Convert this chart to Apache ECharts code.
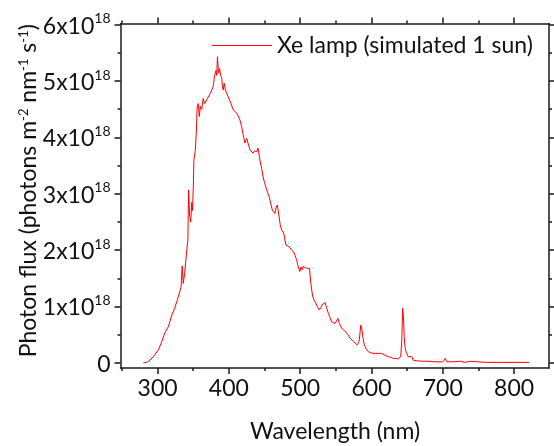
<!DOCTYPE html>
<html><head><meta charset="utf-8">
<script src="https://cdn.jsdelivr.net/npm/echarts@6/dist/echarts.min.js"></script>
<style>html,body{margin:0;padding:0;background:#fff}#c{width:554px;height:446px}</style>
</head><body><div id="c"></div>
<script>
// Wavelength (nm)
var wavelength = [280,287,294,301,306,310,315,320,324,327,331,333,334.5,336,338,341,342.5,343.5,345,346.5,348,349,350,351,353,354.5,355.5,357,358.5,360,362,364,366,368,370,372,374,376,378,380,382,383,384,385.5,387,388.5,390,391,392,393.5,395,397,399,401,403,406,408,411,413,415.5,418,420,422.5,425,427,429.5,432,434,436,439,441,443.5,446,448,450,453,455,456.5,459,461,463,464.5,466,468,470.5,472,474,477,480,482,484.5,488,491,493,495,497,499.5,501,503,504,506,509,511,513,515,517.5,520,522,524,527,529,530.5,533,535,537,539.5,542,544,546,549,551,553,555,558,561,564,567,570,572,574.5,577,580,582,583,585,586.5,588,590,591,593,595.5,599,602.5,606,609.5,612,614,616.5,620,623.5,627,630.5,634,637.5,640,641,642.5,643.8,645,646,647,648.5,649.5,651.5,653,654,656.5,658.5,663,670,680,690,700,701,703.5,706,715,725,730,740,742,760,780,800,821];
// Photon flux, in units of 1e18 photons m^-2 nm^-1 s^-1
var fluxE18 = [0.0,0.02,0.11,0.23,0.38,0.53,0.64,0.85,0.97,1.09,1.26,1.35,1.72,1.41,1.59,2.0,2.18,3.07,2.6,2.5,2.85,2.7,3.07,3.6,3.78,4.13,4.54,4.6,4.37,4.55,4.5,4.69,4.6,4.62,4.69,4.72,4.78,4.75,4.9,5.1,5.19,5.1,5.43,5.14,5.22,5.1,5.05,4.9,4.84,4.96,4.85,4.78,4.72,4.66,4.6,4.49,4.5,4.43,4.38,4.31,4.19,4.05,3.9,3.98,3.95,3.78,3.8,3.72,3.76,3.75,3.81,3.6,3.45,3.3,3.2,3.07,3.0,2.95,2.98,2.71,2.7,2.65,2.75,2.8,2.59,2.45,2.36,2.3,2.09,2.12,2.06,2.0,1.97,1.9,1.83,1.72,1.62,1.7,1.65,1.71,1.68,1.68,1.65,1.68,1.41,1.18,1.1,1.06,1.0,0.94,0.98,1.03,1.0,1.07,0.98,0.88,0.8,0.73,0.74,0.7,0.72,0.79,0.7,0.62,0.58,0.55,0.5,0.44,0.41,0.38,0.35,0.32,0.36,0.41,0.67,0.6,0.45,0.32,0.29,0.24,0.2,0.18,0.17,0.17,0.17,0.2,0.17,0.14,0.13,0.11,0.1,0.08,0.08,0.07,0.09,0.11,0.41,0.97,0.76,0.45,0.29,0.2,0.17,0.11,0.12,0.08,0.11,0.05,0.04,0.03,0.03,0.02,0.02,0.02,0.08,0.02,0.02,0.03,0.01,0.03,0.01,0.01,0.01,0.01,0.01];
var xMajorTicks = [300,400,500,600,700,800];
var xMinorTicks = [250,350,450,550,650,750];
var yMajorTicks = [0,1,2,3,4,5,6];
var yMinorTicks = [0.5,1.5,2.5,3.5,4.5,5.5];
var seriesName = 'Xe lamp (simulated 1 sun)';
var xTitle = 'Wavelength (nm)';

var FONT = 'Lato';
var FS = 23;
var AX = {color:'#1a1a1a', width:1.5};
var xMin = 248, xMax = 849, yMin = -0.09, yMax = 6.02;

function xAx(pos, ticks, len, showLine, showLabel, extra){
  var o = {type:'value', position:pos, min:xMin, max:xMax, splitLine:{show:false},
    axisLine:{show:showLine, onZero:false, lineStyle:AX},
    axisTick:{show:true, customValues:ticks, length:len, inside:false, lineStyle:AX},
    axisLabel:{show:showLabel, customValues:ticks, margin:9, fontFamily:FONT, fontSize:FS, color:'#111'}};
  return Object.assign(o, extra||{});
}
function yAx(pos, ticks, len, showLine, showLabel, extra){
  var o = {type:'value', position:pos, min:yMin, max:yMax, splitLine:{show:false},
    axisLine:{show:showLine, onZero:false, lineStyle:AX},
    axisTick:{show:true, customValues:ticks, length:len, inside:false, lineStyle:AX},
    axisLabel:{show:showLabel, customValues:ticks, margin:10, fontFamily:FONT, fontSize:FS, color:'#111',
      formatter:function(v){ return v===0 ? '{n|0}' : '{n|'+v+'x10}{s|18}'; },
      rich:{n:{fontFamily:FONT, fontSize:FS, color:'#111', lineHeight:26, verticalAlign:'bottom'},
            s:{fontFamily:FONT, fontSize:14, color:'#111', lineHeight:26, verticalAlign:'top', padding:[0,0,10,0]}}}};
  return Object.assign(o, extra||{});
}

var chart = echarts.init(document.getElementById('c'), null, {renderer:'canvas'});
chart.setOption({
  animation:false,
  backgroundColor:'#fff',
  grid:{left:120.5, right:5, top:23.5, bottom:78, containLabel:false, outerBoundsMode:'none'},
  title:{text:xTitle, left:335, top:420, textAlign:'center', padding:0,
    textStyle:{fontFamily:FONT, fontSize:FS, fontWeight:'normal', color:'#111'}},
  legend:{data:[{name:seriesName, icon:'rect'}], left:212, top:34, padding:0, itemWidth:60, itemHeight:1, itemGap:5,
    textStyle:{fontFamily:FONT, fontSize:FS, color:'#111', padding:[0,0,0,0]}},
  xAxis:[
    xAx('bottom', xMajorTicks, 6, true, true),
    xAx('bottom', xMinorTicks, 3, false, false),
    xAx('top', xMajorTicks, 6, true, false),
    xAx('top', xMinorTicks, 3, false, false)
  ],
  yAxis:[
    yAx('left', yMajorTicks, 6, true, true, {name:'Photon flux (photons m{s|-2} nm{s|-1} s{s|-1})', nameLocation:'middle', nameGap:80, nameMoveOverlap:false,
      nameTextStyle:{fontFamily:FONT, fontSize:FS, color:'#111', padding:[0,0,0,10],
        rich:{s:{fontFamily:FONT, fontSize:13, color:'#111', verticalAlign:'top', padding:[0,0,10,0]}}}}),
    yAx('left', yMinorTicks, 3, false, false),
    yAx('right', yMajorTicks, 6, true, false),
    yAx('right', yMinorTicks, 3, false, false)
  ],
  series:[{
    name:seriesName, type:'line', xAxisIndex:0, yAxisIndex:0,
    data: wavelength.map(function(w,i){ return [w, fluxE18[i]]; }),
    showSymbol:false, symbol:'none', smooth:false,
    lineStyle:{color:'#ff0000', width:1}, itemStyle:{color:'#ff0000'}
  }]
});
</script></body></html>
